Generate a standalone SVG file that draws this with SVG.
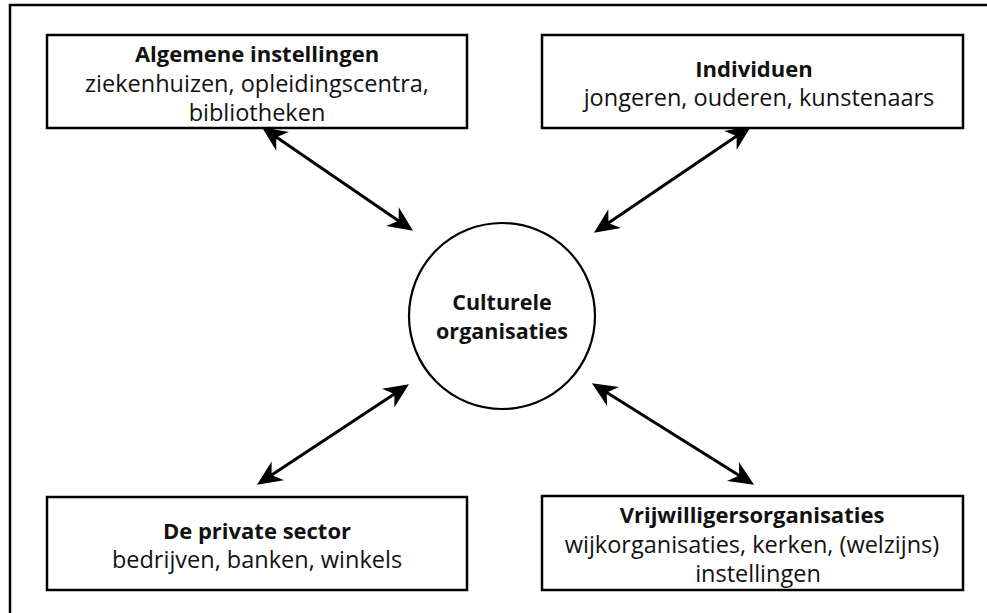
<svg xmlns="http://www.w3.org/2000/svg" width="987" height="613" viewBox="0 0 987 613">
<style>
.box{fill:#fff;stroke:#000;stroke-width:2.5}
.t{font-family:"Open Sans","Liberation Sans",sans-serif;font-size:23.5px;fill:#111;text-anchor:middle}
.b{font-weight:bold;font-size:22px}
.c{font-size:21.5px}
.con{stroke:#000;stroke-width:3;fill:none;marker-start:url(#ah);marker-end:url(#ah)}
</style>
<defs>
<marker id="ah" markerUnits="userSpaceOnUse" markerWidth="30" markerHeight="30" viewBox="-17 -11 24 22" refX="0" refY="0" orient="auto-start-reverse" overflow="visible">
<path d="M5,0 L-15,-9 L-9,0 L-15,9 Z" fill="#000"/>
</marker>
</defs>
<rect x="10" y="5" width="990" height="620" fill="#fff" stroke="#000" stroke-width="2.5"/>
<g id="connectors">
<line class="con" x1="267.1" y1="130.8" x2="407.9" y2="227.2"/>
<line class="con" x1="745.9" y1="129.8" x2="599.1" y2="229.2"/>
<line class="con" x1="403.8" y1="387.8" x2="262.2" y2="481.2"/>
<line class="con" x1="597.2" y1="386.6" x2="748.8" y2="481.4"/>
</g>
<g id="center">
<circle cx="502" cy="316" r="93" fill="#fff" stroke="#000" stroke-width="2.2"/>
<text class="t b c" x="502" y="310">Culturele</text>
<text class="t b c" x="502" y="339">organisaties</text>
</g>
<g id="algemene">
<rect class="box" x="47" y="35" width="420" height="93"/>
<text class="t b" x="257" y="62">Algemene instellingen</text>
<text class="t" x="257" y="92">ziekenhuizen, opleidingscentra,</text>
<text class="t" x="257" y="121">bibliotheken</text>
</g>
<g id="individuen">
<rect class="box" x="542" y="35" width="421" height="93"/>
<text class="t b" x="754" y="77">Individuen</text>
<text class="t" x="759" y="106">jongeren, ouderen, kunstenaars</text>
</g>
<g id="private">
<rect class="box" x="47" y="497" width="420" height="93"/>
<text class="t b" x="257" y="539">De private sector</text>
<text class="t" x="257" y="568">bedrijven, banken, winkels</text>
</g>
<g id="vrijwilligers">
<rect class="box" x="542" y="496" width="421" height="94"/>
<text class="t b" x="752" y="523">Vrijwilligersorganisaties</text>
<text class="t" x="752" y="553">wijkorganisaties, kerken, (welzijns)</text>
<text class="t" x="758" y="582">instellingen</text>
</g>
</svg>
